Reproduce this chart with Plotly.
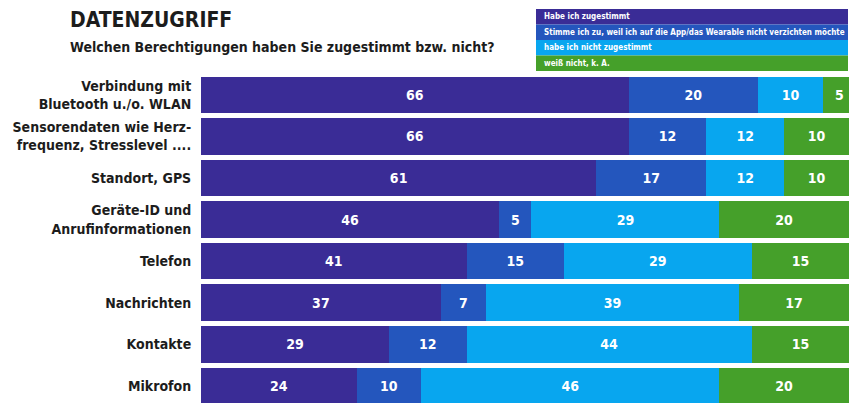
import plotly.graph_objects as go

categories = [
    "Verbindung mit<br>Bluetooth u./o. WLAN",
    "Sensorendaten wie Herz-<br>frequenz, Stresslevel ....",
    "Standort, GPS",
    "Geräte-ID und<br>Anrufinformationen",
    "Telefon",
    "Nachrichten",
    "Kontakte",
    "Mikrofon",
]
series_names = [
    "Habe ich zugestimmt",
    "Stimme ich zu, weil ich auf die App/das Wearable nicht verzichten möchte",
    "habe ich nicht zugestimmt",
    "weiß nicht, k. A.",
]
zugestimmt = [66, 66, 61, 46, 41, 37, 29, 24]
zugestimmt_verzicht = [20, 12, 17, 5, 15, 7, 12, 10]
nicht_zugestimmt = [10, 12, 12, 29, 29, 39, 44, 46]
weiss_nicht = [5, 10, 10, 20, 15, 17, 15, 20]

colors = ["#3a2c96", "#2456bd", "#08a6ef", "#45a02a"]
FONT = "DejaVu Sans Condensed, Liberation Sans Narrow, Arial Narrow, sans-serif"

ypos = list(range(len(categories)))
fig = go.Figure()
for name, vals, col in zip(series_names,
                           [zugestimmt, zugestimmt_verzicht, nicht_zugestimmt, weiss_nicht],
                           colors):
    fig.add_trace(go.Bar(
        y=ypos, x=vals, orientation="h", name=name,
        marker=dict(color=col, line=dict(width=0)),
        text=vals, texttemplate="<b>%{text}</b>",
        textposition="inside", insidetextanchor="middle",
        textangle=0, constraintext="none",
        textfont=dict(color="white", size=14, family=FONT),
        showlegend=False,
    ))

fig.update_layout(
    barmode="stack", bargap=0.12,
    width=854, height=403,
    margin=dict(l=201, r=5, t=74, b=0),
    paper_bgcolor="white", plot_bgcolor="white",
    font=dict(family=FONT, color="#1c1c1c"),
    xaxis=dict(range=[0, 100], visible=False, fixedrange=True),
    yaxis=dict(range=[7.41, -0.5], tickvals=ypos,
               ticktext=["<b>" + c + "</b>" for c in categories],
               showgrid=False, zeroline=False, showline=False,
               ticks="outside", ticklen=6, tickcolor="rgba(0,0,0,0)",
               tickfont=dict(size=14, color="#1c1c1c", family=FONT)),
    uniformtext=dict(mode=False),
)

# Title and subtitle
fig.add_annotation(text="<b>DATENZUGRIFF</b>", xref="paper", yref="paper",
                   x=(68 - 201) / 648, y=(403 - 20) / 329, xanchor="left", yanchor="middle",
                   showarrow=False, font=dict(size=21, color="#1c1c1c", family=FONT))
fig.add_annotation(text="<b>Welchen Berechtigungen haben Sie zugestimmt bzw. nicht?</b>",
                   xref="paper", yref="paper",
                   x=(68 - 201) / 648, y=(403 - 47) / 329, xanchor="left", yanchor="middle",
                   showarrow=False, font=dict(size=14, color="#1c1c1c", family=FONT))

# Custom legend box
row_top = 9
row_h = 15.5
for i, (name, col) in enumerate(zip(series_names, colors)):
    top = row_top + i * row_h
    bot = top + row_h
    fig.add_shape(type="rect", xref="paper", yref="paper",
                  x0=(536 - 201) / 648, x1=(848 - 201) / 648,
                  y0=(403 - bot) / 329, y1=(403 - top) / 329,
                  fillcolor=col, line=dict(width=0), layer="below")
    fig.add_annotation(text="<b>" + name + "</b>", xref="paper", yref="paper",
                       x=(542 - 201) / 648, y=(403 - (top + bot) / 2) / 329,
                       xanchor="left", yanchor="middle", showarrow=False,
                       font=dict(size=8, color="white", family=FONT))

fig.write_html("out.html")
